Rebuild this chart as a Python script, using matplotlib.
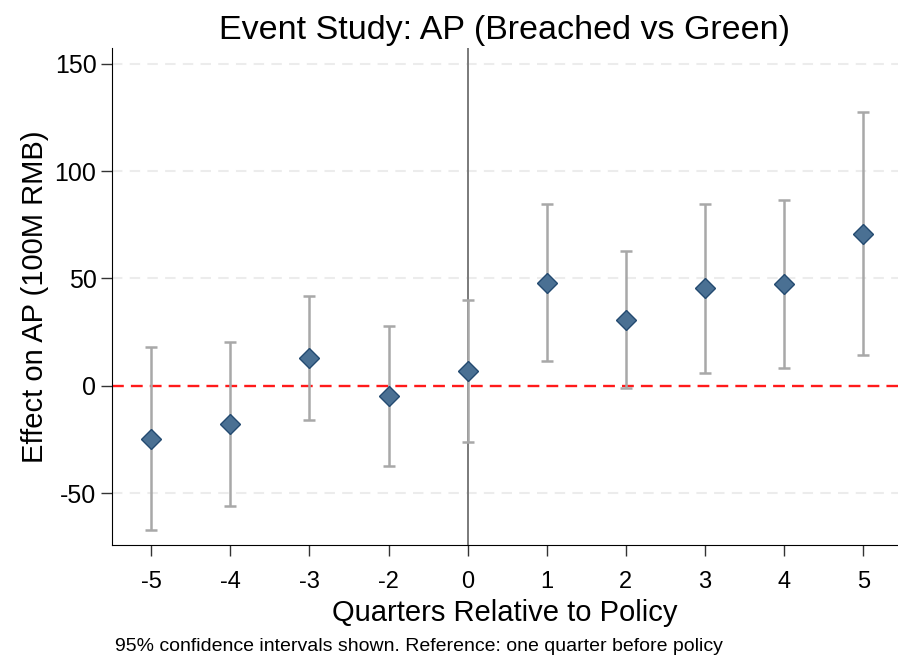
import numpy as np
import matplotlib.pyplot as plt

plt.rcParams['font.family'] = ['Liberation Sans', 'DejaVu Sans']

quarters = ['-5', '-4', '-3', '-2', '0', '1', '2', '3', '4', '5']
coef = [-24.8, -17.8, 12.9, -4.9, 6.9, 48.0, 30.6, 45.4, 47.2, 70.8]
ci_low = [-67.4, -55.9, -15.8, -37.6, -26.4, 11.5, -1.2, 6.1, 8.1, 14.2]
ci_high = [18.0, 20.4, 41.6, 27.8, 40.1, 84.7, 62.6, 84.7, 86.5, 127.5]
yticks = [-50, 0, 50, 100, 150]

coef = np.array(coef)
lo = coef - np.array(ci_low)
hi = np.array(ci_high) - coef
pos = np.arange(len(quarters))

fig = plt.figure(figsize=(8.98, 6.58), dpi=100)
ax = fig.add_axes([0.1244, 0.1717, 0.8756, 0.7549])

for v in [-50, 50, 100, 150]:
    ax.axhline(v, color='#ececec', lw=1.5, ls=(0, (5, 3.5)), zorder=0)

ax.axhline(0, color='#ff1a1a', lw=1.7, ls=(0, (5, 3)), zorder=1)
ax.axvline(quarters.index('0'), color='#7a7a7a', lw=1.4, zorder=1)

ax.errorbar(pos, coef, yerr=[lo, hi], fmt='none', ecolor='#a8a8a8',
            elinewidth=1.8, capsize=4.5, capthick=1.8, zorder=2)
ax.plot(pos, coef, 'D', ms=10.5, mfc='#4a7093', mec='#234a70', mew=1.0, zorder=3)

ax.set_xlim(-0.5, 9.44)
ax.set_ylim(-74.2, 157.2)
ax.set_xticks(pos)
ax.set_xticklabels(quarters)
ax.set_yticks(yticks)
ax.set_yticklabels([str(t) for t in yticks])

ax.spines['top'].set_visible(False)
ax.spines['right'].set_visible(False)
ax.tick_params(axis='both', direction='out', length=8, width=1, color='#333333')
ax.tick_params(axis='x', labelsize=17, pad=11)
ax.tick_params(axis='y', labelsize=18, pad=3)

ax.set_title('Event Study: AP (Breached vs Green)', fontsize=24.5, pad=7)
ax.set_xlabel('Quarters Relative to Policy', fontsize=21, labelpad=4)
ax.set_ylabel('Effect on AP (100M RMB)', fontsize=21, labelpad=4)
fig.text(0.128, 0.017, '95% confidence intervals shown. Reference: one quarter before policy',
         fontsize=14, va='center')

fig.savefig('out.png', dpi=100)
